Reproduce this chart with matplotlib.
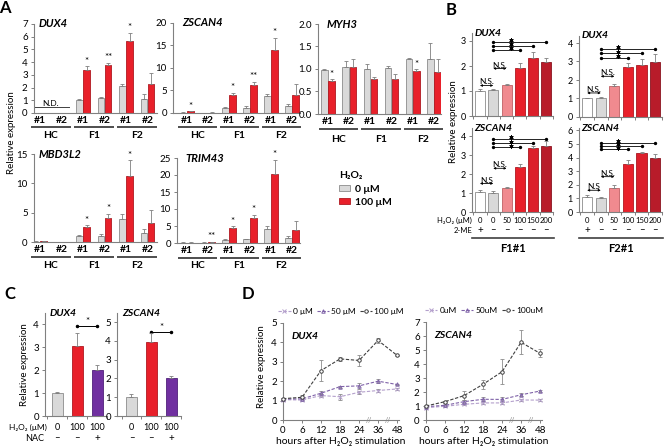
import numpy as np
import matplotlib
matplotlib.use('Agg')
import matplotlib.pyplot as plt
from matplotlib.transforms import offset_copy
from matplotlib.patches import Patch

plt.rcParams['font.family'] = ['Lato', 'DejaVu Sans']
plt.rcParams['axes.linewidth'] = 0.8

nan = np.nan

# ---- panel A: qPCR, control vs 100 uM H2O2 ----
clone_labels = ['#1', '#2', '#1', '#2', '#1', '#2']
group_labels = ['HC', 'F1', 'F2']

dux4_ctrl = [nan, nan, 1.00, 1.20, 2.12, 1.13]
dux4_ctrl_err = [0, 0, 0.10, 0.04, 0.15, 0.35]
dux4_h2o2 = [nan, nan, 3.37, 3.76, 5.68, 2.26]
dux4_h2o2_err = [0, 0, 0.30, 0.20, 0.65, 0.85]
dux4_sig = ['', '', '*', '**', '*', '']

zscan4_ctrl = [0.10, 0.08, 1.00, 1.20, 3.80, 1.50]
zscan4_ctrl_err = [0.03, 0.02, 0.25, 0.30, 0.50, 0.50]
zscan4_h2o2 = [0.35, 0.10, 3.95, 6.20, 13.9, 4.00]
zscan4_h2o2_err = [0.05, 0.02, 0.50, 0.70, 2.80, 2.40]
zscan4_sig = ['*', '', '*', '**', '*', '']

myh3_ctrl = [0.98, 1.05, 1.00, 1.03, 1.22, 1.22]
myh3_ctrl_err = [0.03, 0.13, 0.10, 0.03, 0.02, 0.35]
myh3_h2o2 = [0.73, 1.05, 0.77, 0.78, 0.96, 0.93]
myh3_h2o2_err = [0.04, 0.17, 0.06, 0.10, 0.03, 0.30]
myh3_sig = ['*', '', '', '', '*', '']

mbd3l2_ctrl = [0.08, 0.05, 1.00, 1.10, 3.90, 1.50]
mbd3l2_ctrl_err = [0.02, 0.02, 0.15, 0.20, 0.85, 0.70]
mbd3l2_h2o2 = [0.10, 0.06, 2.60, 4.05, 11.2, 3.20]
mbd3l2_h2o2_err = [0.03, 0.02, 0.25, 0.70, 2.70, 2.20]
mbd3l2_sig = ['', '', '*', '*', '*', '']

trim43_ctrl = [0.10, 0.10, 1.00, 1.10, 4.20, 1.40]
trim43_ctrl_err = [0.05, 0.05, 0.20, 0.20, 0.70, 0.60]
trim43_h2o2 = [0.10, 0.30, 4.30, 7.30, 20.2, 3.90]
trim43_h2o2_err = [0.05, 0.10, 0.60, 0.90, 4.20, 2.50]
trim43_sig = ['', '**', '*', '*', '*', '']

# ---- panel B: dose response ----
b_h2o2 = ['0', '0', '50', '100', '150', '200']
b_2me = ['+', '–', '–', '–', '–', '–']
b_f1_dux4 = [1.00, 1.02, 1.25, 1.90, 2.30, 2.15]
b_f1_dux4_err = [0.08, 0.06, 0.03, 0.20, 0.27, 0.15]
b_f2_dux4 = [1.00, 1.02, 1.65, 2.72, 2.80, 2.97]
b_f2_dux4_err = [0.02, 0.05, 0.12, 0.20, 0.32, 0.42]
b_f1_zscan4 = [1.03, 1.00, 1.28, 2.37, 3.35, 3.50]
b_f1_zscan4_err = [0.15, 0.12, 0.05, 0.15, 0.10, 0.25]
b_f2_zscan4 = [1.10, 1.00, 1.80, 3.55, 4.35, 4.00]
b_f2_zscan4_err = [0.12, 0.10, 0.22, 0.25, 0.08, 0.30]

# ---- panel C: NAC rescue ----
c_h2o2 = ['0', '100', '100']
c_nac = ['–', '–', '+']
c_dux4 = [1.00, 3.08, 2.03]
c_dux4_err = [0.03, 0.55, 0.22]
c_zscan4 = [1.00, 3.95, 2.02]
c_zscan4_err = [0.15, 0.48, 0.12]

# ---- panel D: time course ----
hours = ['0', '6', '12', '18', '24', '36', '48']
d_dux4_0 = [1.05, 1.03, 1.26, 1.20, 1.43, 1.52, 1.60]
d_dux4_0_err = [0.08, 0.05, 0.08, 0.15, 0.08, 0.06, 0.06]
d_dux4_50 = [1.08, 1.09, 1.38, 1.72, 1.76, 2.00, 1.83]
d_dux4_50_err = [0.05, 0.05, 0.12, 0.05, 0.15, 0.10, 0.05]
d_dux4_100 = [1.10, 1.17, 2.55, 3.15, 3.07, 4.10, 3.33]
d_dux4_100_err = [0.05, 0.10, 0.56, 0.10, 0.30, 0.12, 0.04]
d_zscan4_0 = [0.88, 0.98, 1.12, 1.22, 1.22, 1.43, 1.42]
d_zscan4_0_err = [0.04, 0.04, 0.06, 0.06, 0.06, 0.06, 0.05]
d_zscan4_50 = [0.95, 1.05, 1.31, 1.48, 1.47, 1.80, 2.07]
d_zscan4_50_err = [0.05, 0.05, 0.10, 0.15, 0.20, 0.12, 0.10]
d_zscan4_100 = [1.00, 1.31, 1.74, 2.55, 3.45, 5.55, 4.76]
d_zscan4_100_err = [0.05, 0.08, 0.30, 0.30, 0.90, 0.85, 0.28]

GRAY = '#d9d9d9'
RED = '#e8202a'
AXC = '#808080'

W, H = 670, 448
fig = plt.figure(figsize=(W / 100, H / 100), dpi=100)


def box(l, t, r, b):
    return fig.add_axes([l / W, 1 - b / H, (r - l) / W, (b - t) / H])


def below(ax, dy):
    # x in data units, y = dy pixels under the x axis
    return offset_copy(ax.get_xaxis_transform(), fig=fig, x=0, y=-dy, units='dots')


def style(ax, ymax, yticks, fs=7):
    for s in ['top', 'right']:
        ax.spines[s].set_visible(False)
    for s in ['left', 'bottom']:
        ax.spines[s].set_color(AXC)
        ax.spines[s].set_linewidth(0.8)
    ax.set_ylim(0, ymax)
    ax.set_yticks(yticks)
    ax.tick_params(axis='y', length=2.5, width=0.7, color=AXC, labelsize=fs, pad=2)
    ax.tick_params(axis='x', length=0)
    ax.patch.set_alpha(0)


def title(ax, name, x=0.05, fs=8):
    ax.text(x, 1.0, name, transform=ax.transAxes, ha='left', va='center',
            fontsize=fs, fontweight='bold', fontstyle='italic')


def ebar(ax, x, h, e, **kw):
    ax.errorbar(x, h, yerr=[np.zeros(len(e)), e], fmt='none', ecolor='#7f7f7f',
                elinewidth=0.6, capsize=1.3, capthick=0.6, zorder=3, **kw)


def draw_a(ax, name, ctrl, ce, trt, te, sig, ymax, yticks, c0, unit, left, right, dys):
    x = np.arange(6)
    ctrl, ce, trt, te = map(np.array, (ctrl, ce, trt, te))
    ok = ~np.isnan(ctrl)
    ax.bar(x[ok] - 0.17, ctrl[ok], 0.3, color=GRAY, edgecolor='#8c8c8c', linewidth=0.6, zorder=2)
    ax.bar(x[ok] + 0.17, trt[ok], 0.3, color=RED, edgecolor='#b01820', linewidth=0.6, zorder=2)
    ebar(ax, x[ok] - 0.17, ctrl[ok], ce[ok])
    ebar(ax, x[ok] + 0.17, trt[ok], te[ok])
    for i in x[ok]:
        if sig[i]:
            ax.annotate(sig[i], (i + 0.17, trt[i] + te[i]), xytext=(0, 0.5),
                        textcoords='offset points', ha='center', va='bottom', fontsize=7)
    style(ax, ymax, yticks)
    ax.set_xlim(-(c0 - left) / unit, 5 + (right - (c0 + 5 * unit)) / unit)
    ax.set_xticks(x)
    ax.set_xticklabels(clone_labels, fontsize=7.5, fontweight='bold')
    ax.tick_params(axis='x', pad=2.5)
    for g in range(3):
        ax.plot([2 * g - 0.42, 2 * g + 1.42], [0, 0], transform=below(ax, dys[0]),
                color='#404040', lw=1.3, clip_on=False, solid_capstyle='butt')
        ax.text(2 * g + 0.5, 0, group_labels[g], transform=below(ax, dys[1]),
                ha='center', va='center', fontsize=7.5, fontweight='bold')
    title(ax, name, x=0.04 if left < 100 else 0.07)


# ---- panel A ----
ax = box(34, 24, 157, 113)
draw_a(ax, 'DUX4', dux4_ctrl, dux4_ctrl_err, dux4_h2o2, dux4_h2o2_err, dux4_sig,
       7, range(0, 8), 40, 21.5, 34, 157, (14, 23))
ax.plot([-0.3, 1.35], [0.45, 0.45], color='#404040', lw=0.7)
ax.text(0.5, 0.5, 'N.D.', ha='center', va='bottom', fontsize=6)

ax = box(173, 23, 300, 113)
draw_a(ax, 'ZSCAN4', zscan4_ctrl, zscan4_ctrl_err, zscan4_h2o2, zscan4_h2o2_err, zscan4_sig,
       20, range(0, 21, 5), 187, 21.0, 173, 300, (14, 23))

ax = box(318, 24, 441, 114)
draw_a(ax, 'MYH3', myh3_ctrl, myh3_ctrl_err, myh3_h2o2, myh3_h2o2_err, myh3_sig,
       2, [0, 0.5, 1, 1.5, 2], 328, 21.2, 318, 441, (15, 25))

ax = box(34, 154, 157, 242)
draw_a(ax, 'MBD3L2', mbd3l2_ctrl, mbd3l2_ctrl_err, mbd3l2_h2o2, mbd3l2_h2o2_err, mbd3l2_sig,
       15, range(0, 16, 5), 40, 21.5, 34, 157, (15, 23))

ax = box(177, 158, 300, 243)
draw_a(ax, 'TRIM43', trim43_ctrl, trim43_ctrl_err, trim43_h2o2, trim43_h2o2_err, trim43_sig,
       25, range(0, 26, 5), 187, 21.0, 177, 300, (15, 23))

fig.text(12 / W, 1 - 133 / H, 'Relative expression', rotation=90, ha='center', va='center', fontsize=7)

leg = fig.legend(handles=[Patch(facecolor=GRAY, edgecolor='#8c8c8c', lw=0.6, label='0 μM'),
                          Patch(facecolor=RED, edgecolor='#b01820', lw=0.6, label='100 μM')],
                 title='H₂O₂', loc='upper left', bbox_to_anchor=(330 / W, 1 - 162 / H),
                 frameon=False, prop={'weight': 'bold', 'size': 7.5},
                 title_fontproperties={'weight': 'bold', 'size': 7.5},
                 handlelength=1.0, handleheight=0.6, handletextpad=0.5, labelspacing=0.4,
                 alignment='left')

# ---- panel B ----
b_colors = ['white', GRAY, '#f08a8f', '#e8202a', '#dc1f2b', '#b81c2a']
b_edges = ['#8c8c8c', '#8c8c8c', '#c06065', '#b01820', '#a81820', '#8a1420']


def draw_b(ax, name, vals, errs, ymax, yticks, ns, ns_txt, stars):
    x = np.arange(6)
    ax.bar(x, vals, 0.75, color=b_colors, edgecolor=b_edges, linewidth=0.6, zorder=2)
    ebar(ax, x, vals, errs)
    style(ax, ymax, yticks, fs=6.5)
    ax.set_xlim(-0.6, 5.45)
    ax.set_xticks(np.arange(-0.5, 6))
    ax.set_xticklabels([])
    ax.tick_params(axis='x', length=2.5, width=0.7, color=AXC, direction='out')
    for (i, j, y), t in zip(ns, ns_txt):
        ax.annotate('', xy=(j, y), xytext=(i, y),
                    arrowprops=dict(arrowstyle='<|-|>', lw=0.6, color='k',
                                    mutation_scale=3, shrinkA=0, shrinkB=0))
        ax.text((i + j) / 2, y, t, ha='center', va='bottom', fontsize=6)
    for i, j, y in stars:
        ax.plot([i, j], [y, y], color='k', lw=0.6, marker='o', ms=1.4, clip_on=False)
        # asterisk drawn as a marker sitting on its line
        ax.plot(2.3, y + ymax * 0.02, marker=(6, 2, 0), ms=3, mew=0.6, color='k', clip_on=False)
    title(ax, name, x=0.03, fs=7.5)


def b_labels(ax, with_names, group):
    x = np.arange(6)
    for i in x:
        ax.text(i, 0, b_h2o2[i], transform=below(ax, 8), ha='center', va='center', fontsize=5.5)
        ax.text(i, 0, b_2me[i], transform=below(ax, 18), ha='center', va='center', fontsize=7)
    if with_names:
        ax.text(-0.6, 0, 'H₂O₂ (μM)', transform=below(ax, 8.5), ha='right', va='center', fontsize=5.5)
        ax.text(-0.6, 0, '2-ME', transform=below(ax, 18), ha='right', va='center', fontsize=5.5)
    ax.plot([-0.6, 5.6], [0, 0], transform=below(ax, 26), color='#404040', lw=1.2, clip_on=False)
    ax.text(2.5, 0, group, transform=below(ax, 36), ha='center', va='center',
            fontsize=8, fontweight='bold')


ax = box(472, 33.5, 553, 116)
draw_b(ax, 'DUX4', b_f1_dux4, b_f1_dux4_err, 3.3, range(0, 4),
       [(0, 1, 1.22), (1, 2, 1.9)], ['N.S.', 'N.S.'],
       [(1, 3, 2.64), (1, 4, 2.8), (1, 5, 2.97)])
ax = box(579, 35.6, 662, 117)
draw_b(ax, 'DUX4', b_f2_dux4, b_f2_dux4_err, 4.4, range(0, 5),
       [(0, 1, 1.3), (1, 2, 2.2)], ['N.S.', 'N.S.'],
       [(1, 3, 3.2), (1, 4, 3.45), (1, 5, 3.7)])
ax = box(472, 128.4, 553, 212)
draw_b(ax, 'ZSCAN4', b_f1_zscan4, b_f1_zscan4_err, 4.4, range(0, 5),
       [(0, 1, 1.5), (1, 2, 2.3)], ['N.S', 'N.S.'],
       [(1, 3, 3.4), (1, 4, 3.62), (1, 5, 3.85)])
b_labels(ax, True, 'F1#1')
ax = box(579, 128.4, 662, 212)
draw_b(ax, 'ZSCAN4', b_f2_zscan4, b_f2_zscan4_err, 6.15, range(0, 7),
       [(0, 1, 1.6), (1, 2, 2.6)], ['N.S', 'N.S.'],
       [(1, 3, 4.6), (1, 4, 4.85), (1, 5, 5.1)])
b_labels(ax, False, 'F2#1')

fig.text(453 / W, 1 - 122 / H, 'Relative expression', rotation=90, ha='center', va='center', fontsize=7)

# ---- panel C ----
c_colors = [GRAY, RED, '#7030a0']
c_edges = ['#8c8c8c', '#b01820', '#50207a']


def draw_c(ax, name, vals, errs, ymax, yticks, xl, star_y, with_names):
    x = np.arange(3)
    ax.bar(x, vals, 0.55, color=c_colors, edgecolor=c_edges, linewidth=0.6, zorder=2)
    ebar(ax, x, vals, errs)
    style(ax, ymax, yticks)
    ax.set_xlim(*xl)
    ax.set_xticks(np.arange(-0.5, 3))
    ax.set_xticklabels([])
    ax.tick_params(axis='x', length=2.5, width=0.7, color=AXC, direction='out')
    ax.plot([1, 2], [star_y, star_y], color='k', lw=0.7, marker='o', ms=1.5)
    ax.text(1.5, star_y, '*', ha='center', va='bottom', fontsize=7)
    for i in x:
        ax.text(i, 0, c_h2o2[i], transform=below(ax, 11), ha='center', va='center', fontsize=6.5)
        ax.text(i, 0, c_nac[i], transform=below(ax, 22), ha='center', va='center', fontsize=7)
    if with_names:
        ax.text(xl[0] + 0.1, 0, 'H₂O₂ (μM)', transform=below(ax, 11), ha='right', va='center', fontsize=6)
        ax.text(xl[0] - 0.05, 0, 'NAC', transform=below(ax, 22), ha='right', va='center', fontsize=6.5)
    title(ax, name, x=0.08, fs=7.5)


ax = box(45, 313, 107, 416)
draw_c(ax, 'DUX4', c_dux4, c_dux4_err, 4.5, range(0, 5), (-0.6, 2.5), 3.94, True)
ax = box(117, 313, 181, 416)
draw_c(ax, 'ZSCAN4', c_zscan4, c_zscan4_err, 5.48, range(0, 6), (-0.73, 2.4), 4.47, False)
fig.text(25 / W, 1 - 365 / H, 'Relative expression', rotation=90, ha='center', va='center', fontsize=7)

# ---- panel D ----
d_styles = [dict(color='#b4a0cc', marker='x', ms=3, mew=0.7),
            dict(color='#7f62a8', marker='^', ms=2.5, mfc='none', mew=0.7),
            dict(color='#3f3f3f', marker='o', ms=2.5, mfc='white', mew=0.7)]


def draw_d(ax, name, series, errs, labels, ymax):
    x = np.arange(7)
    for y, e, lab, st in zip(series, errs, labels, d_styles):
        ax.errorbar(x, y, yerr=e, fmt='none', ecolor='#8c8c8c', elinewidth=0.6,
                    capsize=1.2, capthick=0.6, clip_on=False, zorder=2)
        ax.plot(x, y, linestyle=(0, (3, 1.5)), lw=0.8, label=lab, clip_on=False, zorder=3, **st)
    style(ax, ymax, range(0, int(ymax) + 1))
    ax.set_xlim(0, 6.1)
    ax.set_xticks(x)
    ax.set_xticklabels(hours)
    ax.tick_params(axis='x', length=2.5, width=0.7, color=AXC, labelsize=7, pad=2)
    ax.set_xlabel('hours after H₂O₂ stimulation', fontsize=7.5, labelpad=1)
    for b in (4.5, 5.5):
        ax.text(b, 0, '//', transform=ax.get_xaxis_transform(), ha='center', va='center',
                fontsize=5, color='#7f7f7f')
    ax.legend(loc='lower center', bbox_to_anchor=(0.5, 1.08), ncol=3, frameon=False,
              fontsize=6, handlelength=1.5, handletextpad=0.25, columnspacing=0.5,
              borderaxespad=0, borderpad=0)
    ax.text(0.07, 0.86, name, transform=ax.transAxes, ha='left', va='center',
            fontsize=7.5, fontweight='bold', fontstyle='italic')


ax = box(283, 323, 399, 420)
draw_d(ax, 'DUX4', [d_dux4_0, d_dux4_50, d_dux4_100],
       [d_dux4_0_err, d_dux4_50_err, d_dux4_100_err], ['0 μM', '50 μM', '100 μM'], 5)
ax = box(426, 322, 542, 420)
draw_d(ax, 'ZSCAN4', [d_zscan4_0, d_zscan4_50, d_zscan4_100],
       [d_zscan4_0_err, d_zscan4_50_err, d_zscan4_100_err], ['0uM', '50uM', '100uM'], 7)
fig.text(262 / W, 1 - 367 / H, 'Relative expression', rotation=90, ha='center', va='center', fontsize=7)

# ---- panel letters ----
for lab, px, py in [('A', 5, 8), ('B', 451, 10), ('C', 10, 294), ('D', 248, 294)]:
    fig.text(px / W, 1 - py / H, lab, ha='center', va='center', fontsize=12, fontweight='bold')

fig.savefig('out.png', dpi=100)
